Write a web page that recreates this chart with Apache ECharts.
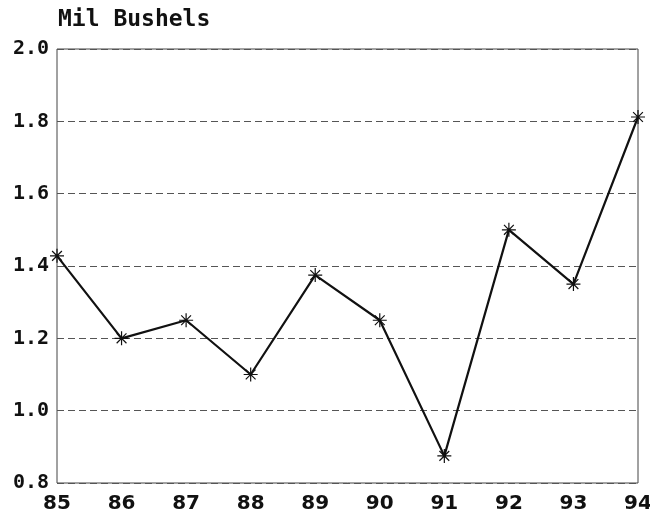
<!DOCTYPE html>
<html>
<head>
	<meta charset="utf-8">
	<title>mil bushels</title>
	<style>
		html, body, #chart {
			margin: 0;
			padding: 0;
			width: 650px;
			height: 510px;
			background: #fff;
		}
	</style>
	<script src="https://cdn.jsdelivr.net/npm/echarts@6/dist/echarts.min.js"></script>
</head>
<body>
<div id="chart"></div>
<script>

var years = ['85', '86', '87', '88', '89', '90', '91', '92', '93', '94'];
var bushels = [1.428, 1.2, 1.25, 1.1, 1.375, 1.25, 0.875, 1.5, 1.35, 1.812];
var yTicks = ['0.8', '1.0', '1.2', '1.4', '1.6', '1.8', '2.0'];

// eight-armed asterisk drawn as strokes
var star = 'path://M0,5L10,5M5,0L5,10M1.5,1.5L8.5,8.5M8.5,1.5L1.5,8.5';

var chart = echarts.init(document.getElementById('chart'));

chart.setOption({
	animation: false,
	title: {
		text: 'Mil Bushels',
		left: 53,
		top: 4,
		textStyle: {
			fontFamily: 'DejaVu Sans Mono',
			fontWeight: 'bold',
			fontSize: 23,
			color: '#111'
		}
	},
	grid: {
		left: 57,
		right: 12,
		top: 49,
		bottom: 27,
		outerBoundsMode: 'none',
		containLabel: false,
		show: true,
		borderColor: '#444',
		borderWidth: 1
	},
	xAxis: {
		type: 'category',
		data: years,
		boundaryGap: false,
		axisLine: { show: false },
		axisTick: { show: false },
		splitLine: { show: false },
		axisLabel: {
			margin: 11,
			fontFamily: 'DejaVu Sans',
			fontWeight: 'bold',
			fontSize: 20,
			color: '#111'
		}
	},
	yAxis: {
		type: 'value',
		min: 0.8,
		max: 2.0,
		interval: 0.2,
		axisLine: { show: false },
		axisTick: { show: false },
		axisLabel: {
			margin: 8,
			fontFamily: 'DejaVu Sans Mono',
			fontWeight: 'bold',
			fontSize: 20,
			color: '#111',
			formatter: function (v) {
				return yTicks[Math.round((v - 0.8) / 0.2)];
			}
		},
		splitLine: {
			show: true,
			lineStyle: { color: '#555', type: [7, 4], width: 1 }
		}
	},
	series: [{
		type: 'line',
		data: bushels,
		symbol: star,
		symbolSize: 14,
		showAllSymbol: true,
		lineStyle: { color: '#111', width: 2.2 },
		itemStyle: { color: 'none', borderColor: '#111', borderWidth: 1.2 }
	}]
});

</script>
</body>
</html>
